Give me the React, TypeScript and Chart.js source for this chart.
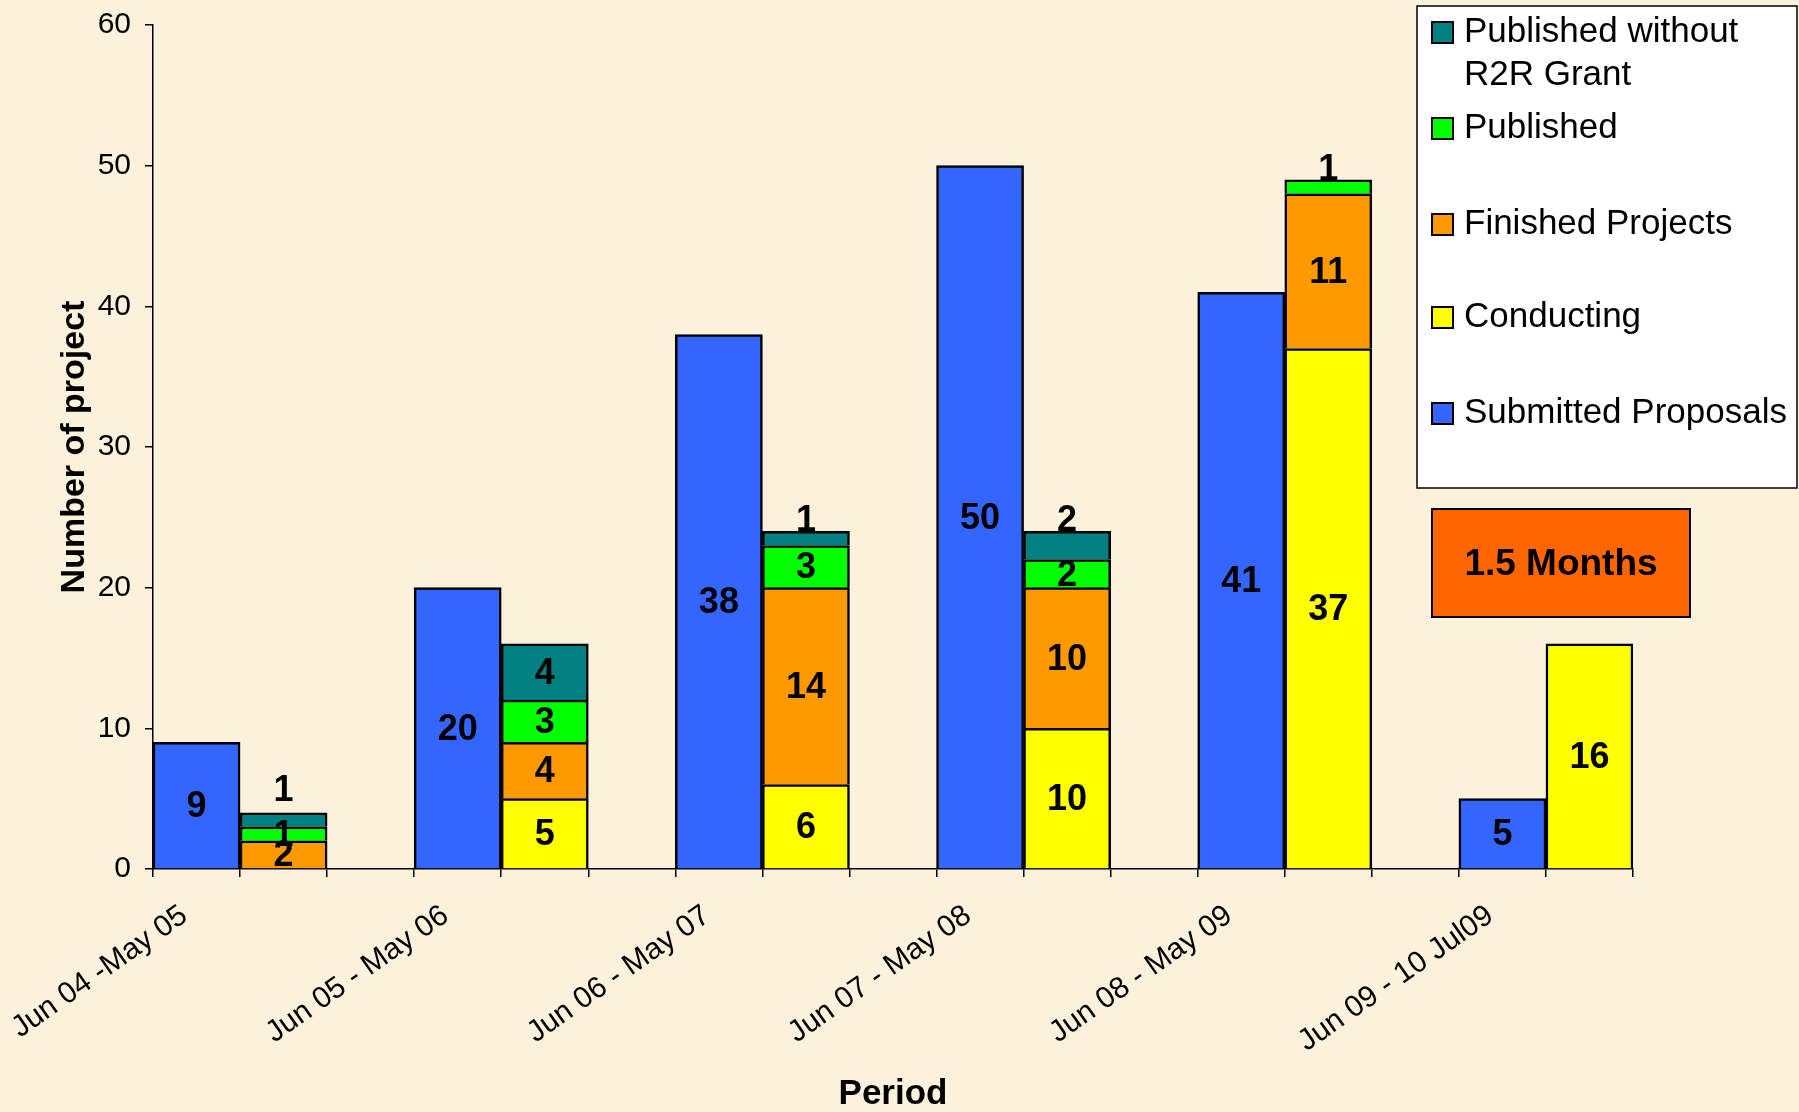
import React, { useEffect, useRef } from 'react';
import { Chart, registerables } from 'chart.js';

Chart.register(...registerables);

// ---- data ----
const periods = [
  'Jun 04 -May 05',
  'Jun 05 - May 06',
  'Jun 06 - May 07',
  'Jun 07 - May 08',
  'Jun 08 - May 09',
  'Jun 09 - 10 Jul09',
];
const submittedProposals = [9, 20, 38, 50, 41, 5];
const conducting = [0, 5, 6, 10, 37, 16];
const finishedProjects = [2, 4, 14, 10, 11, 0];
const published = [1, 3, 3, 2, 1, 0];
const publishedWithoutGrant = [1, 4, 1, 2, 0, 0];
const yMax = 60;
const yStep = 10;
const noteText = '1.5 Months';

const FONT = "'Liberation Sans', Arial, Helvetica, sans-serif";
const W = 1799;
const H = 1112;

export default function App() {
  const ref = useRef<HTMLCanvasElement>(null);

  useEffect(() => {
    const canvas = ref.current;
    if (!canvas) return;
    const slots = periods.length * 3 - 1;
    const labels = Array.from({ length: slots }, (_, i) => (i % 3 === 0 ? periods[i / 3] : ''));
    const place = (vals: number[], off: number) =>
      Array.from({ length: slots }, (_, i) => {
        if (i % 3 !== off) return null;
        const v = vals[(i - off) / 3];
        return v ? v : null;
      });

    const common = { borderColor: '#000000', borderWidth: 2.5, barPercentage: 1, categoryPercentage: 1 };
    const datasets = [
      { label: 'Submitted Proposals', data: place(submittedProposals, 0), backgroundColor: '#3366FF', ...common },
      { label: 'Conducting', data: place(conducting, 1), backgroundColor: '#FFFF00', ...common },
      { label: 'Finished Projects', data: place(finishedProjects, 1), backgroundColor: '#FF9900', ...common },
      { label: 'Published', data: place(published, 1), backgroundColor: '#00FF00', ...common },
      { label: 'Published without\nR2R Grant', data: place(publishedWithoutGrant, 1), backgroundColor: '#008080', ...common },
    ];

    const bgPlugin = {
      id: 'bg',
      beforeDraw(chart: any) {
        const c = chart.ctx;
        c.save();
        c.fillStyle = '#FCF2DC';
        c.fillRect(0, 0, chart.width, chart.height);
        c.restore();
      },
    };

    const labelPlugin = {
      id: 'vals',
      afterDatasetsDraw(chart: any) {
        const c = chart.ctx;
        c.save();
        c.font = `bold 36px ${FONT}`;
        c.textAlign = 'center';
        c.textBaseline = 'middle';
        c.fillStyle = '#000';
        const dss = chart.data.datasets;
        dss.forEach((ds: any, di: number) => {
          const meta = chart.getDatasetMeta(di);
          meta.data.forEach((el: any, i: number) => {
            const v = ds.data[i];
            if (v == null) return;
            const p = el.getProps(['x', 'y', 'base'], true);
            const h = p.base - p.y;
            let cy = (p.y + p.base) / 2;
            const isTop = dss.every((d2: any, dj: number) => dj <= di || d2.data[i] == null);
            if (di > 0 && isTop && h < 32) cy = p.y - 12 - (h < 16 && i === 1 ? 12 : 0);
            c.fillText(String(v), p.x, cy + 2);
          });
        });
        c.restore();
      },
    };

    const legendPlugin = {
      id: 'customLegend',
      afterDraw(chart: any) {
        const c = chart.ctx;
        c.save();
        // legend box
        c.fillStyle = '#FFFFFF';
        c.fillRect(1417, 6, 380, 482);
        c.strokeStyle = '#000';
        c.lineWidth = 1.5;
        c.strokeRect(1417, 6, 380, 482);
        const order = [4, 3, 2, 1, 0];
        const ys = [32, 128, 224, 317, 413];
        c.font = `35px ${FONT}`;
        c.textBaseline = 'middle';
        c.textAlign = 'left';
        order.forEach((di, k) => {
          const ds = chart.data.datasets[di];
          const y = ys[k];
          c.fillStyle = ds.backgroundColor;
          c.fillRect(1432, y - 10, 21, 21);
          c.strokeStyle = '#000';
          c.lineWidth = 2;
          c.strokeRect(1432, y - 10, 21, 21);
          c.fillStyle = '#000';
          String(ds.label)
            .split('\n')
            .forEach((line, li) => c.fillText(line, 1464, y + li * 43));
        });
        // note box
        c.fillStyle = '#FF6600';
        c.fillRect(1432, 509, 258, 108);
        c.strokeStyle = '#000';
        c.lineWidth = 2;
        c.strokeRect(1432, 509, 258, 108);
        c.fillStyle = '#000';
        c.font = `bold 37px ${FONT}`;
        c.textAlign = 'center';
        c.fillText(noteText, 1561, 565);
        c.restore();
      },
    };

    const noPad = (s: any) => {
      s.paddingLeft = 0;
      s.paddingRight = 0;
      s.paddingTop = 0;
      s.paddingBottom = 0;
    };

    const chart = new Chart(canvas, {
      type: 'bar',
      data: { labels, datasets: datasets as any },
      plugins: [bgPlugin, labelPlugin, legendPlugin],
      options: {
        animation: false,
        responsive: false,
        devicePixelRatio: 1,
        layout: { padding: { left: 0, right: 166, top: 25, bottom: 0 } },
        plugins: { legend: { display: false }, tooltip: { enabled: false } },
        scales: {
          x: {
            stacked: true,
            offset: true,
            grid: { display: true, drawOnChartArea: false, drawTicks: true, tickLength: 8, color: '#000', lineWidth: 1.5 },
            border: { display: true, color: '#000', width: 1.5 },
            ticks: {
              autoSkip: false,
              minRotation: 35,
              maxRotation: 35,
              padding: 21,
              labelOffset: -12,
              color: '#000',
              font: { family: FONT, size: 30 },
            },
            title: {
              display: true,
              text: 'Period',
              color: '#000',
              font: { family: FONT, size: 35, weight: 'bold', lineHeight: 1 },
              padding: 0,
            },
            afterFit: (s: any) => {
              s.height = 243;
              noPad(s);
            },
          },
          y: {
            stacked: true,
            min: 0,
            max: yMax,
            grid: { display: true, drawOnChartArea: false, drawTicks: true, tickLength: 8, color: '#000', lineWidth: 1.5 },
            border: { display: true, color: '#000', width: 1.5 },
            ticks: { stepSize: yStep, color: '#000', padding: 14, font: { family: FONT, size: 30 } },
            title: {
              display: true,
              text: 'Number of project',
              color: '#000',
              font: { family: FONT, size: 34, weight: 'bold', lineHeight: 1 },
              padding: { top: 58, bottom: 0 },
            },
            afterFit: (s: any) => {
              s.width = 153;
              noPad(s);
            },
          },
        },
      } as any,
    });
    return () => chart.destroy();
  }, []);

  return (
    <div style={{ position: 'fixed', left: 0, top: 0, width: W, height: H, background: '#FCF2DC' }}>
      <canvas ref={ref} width={W} height={H} style={{ display: 'block', width: W, height: H }} />
    </div>
  );
}
